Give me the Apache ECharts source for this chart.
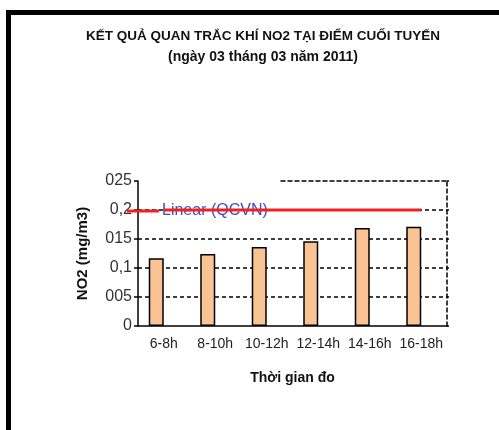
<!DOCTYPE html>
<html>
<head>
<meta charset="utf-8">
<script src="https://cdn.jsdelivr.net/npm/echarts@6/dist/echarts.min.js"></script>
<style>
  html, body { margin: 0; padding: 0; background: #fff; }
  #chart { width: 499px; height: 430px; }
</style>
</head>
<body>
<div id="chart"></div>
<script>
// Measurement periods and NO2 concentrations (mg/m3)
const periods = ['6-8h', '8-10h', '10-12h', '12-14h', '14-16h', '16-18h'];
const no2Values = [0.117, 0.124, 0.136, 0.146, 0.169, 0.171];
// QCVN limit for each period
const qcvnValues = [0.2, 0.2, 0.2, 0.2, 0.2, 0.2];
// Y tick labels as printed on the axis
const yTickLabels = ['0', '005', '0,1', '015', '0,2', '025'];

const chart = echarts.init(document.getElementById('chart'), null, { renderer: 'canvas' });

const dashed = { color: '#000', type: [4, 3], width: 1.5 };
const narrow = 'Liberation Sans Narrow, Liberation Sans, Arial';

chart.setOption({
  animation: false,
  backgroundColor: '#fff',
  textStyle: { fontFamily: 'Liberation Sans, Arial, sans-serif' },
  title: [
    {
      text: 'KẾT QUẢ QUAN TRẮC KHÍ NO2 TẠI ĐIỂM CUỐI TUYẾN',
      left: 258, top: 24, textAlign: 'center',
      textStyle: { fontSize: 13.5, fontWeight: 'bold', color: '#111', fontFamily: narrow }
    },
    {
      text: '(ngày 03 tháng 03 năm 2011)',
      left: 258, top: 45, textAlign: 'center',
      textStyle: { fontSize: 14, fontWeight: 'bold', color: '#111', fontFamily: narrow }
    }
  ],
  graphic: [
    // frame: top and left edge
    { type: 'rect', shape: { x: 6, y: 10, width: 493, height: 5 }, style: { fill: '#000' }, silent: true },
    { type: 'rect', shape: { x: 6, y: 10, width: 5, height: 420 }, style: { fill: '#000' }, silent: true }
  ],
  legend: {
    data: ['Linear (QCVN)'],
    left: 127, top: 203, padding: 0,
    itemWidth: 32, itemHeight: 3, itemGap: 0,
    icon: 'rect',
    textStyle: { color: '#3a4fc0', fontSize: 16, padding: [0, 0, 0, -2] },
    z: 4
  },
  grid: [
    { left: 138, right: 52, top: 181, bottom: 104 },
    { left: 281, right: 52, top: 181, bottom: 104 }
  ],
  xAxis: [
    {
      type: 'category', gridIndex: 0, data: periods,
      axisLine: { lineStyle: { color: '#000', width: 1.5 } },
      axisTick: { length: 5, lineStyle: { color: '#000', width: 1.5 } },
      axisLabel: { color: '#222', fontSize: 14, margin: 11, interval: 0 },
      name: 'Thời gian đo', nameLocation: 'middle', nameGap: 45,
      nameTextStyle: { color: '#111', fontSize: 14, fontWeight: 'bold' }
    },
    {
      // dashed top edge of the plot area
      type: 'value', gridIndex: 1, position: 'top', min: 0, max: 1,
      axisLine: { show: true, onZero: false, lineStyle: dashed },
      axisTick: { show: false }, axisLabel: { show: false }, splitLine: { show: false }
    }
  ],
  yAxis: [
    {
      type: 'value', gridIndex: 0, min: 0, max: 0.25, interval: 0.05,
      axisLine: { show: true, lineStyle: { color: '#000', width: 1.5 } },
      axisTick: { show: true, length: 4, lineStyle: { color: '#000', width: 1.5 } },
      axisLabel: {
        color: '#333', fontSize: 16, margin: 6,
        formatter: (v, i) => yTickLabels[i]
      },
      splitLine: { show: true, showMinLine: false, showMaxLine: false, lineStyle: dashed },
      name: 'NO2 (mg/m3)', nameLocation: 'middle', nameGap: 48, nameRotate: 90,
      nameTextStyle: { color: '#111', fontSize: 15, fontWeight: 'bold' }
    },
    {
      // dashed right edge of the plot area
      type: 'value', gridIndex: 0, position: 'right', min: 0, max: 0.25, interval: 0.05,
      axisLine: { show: true, onZero: false, lineStyle: dashed },
      axisTick: { show: true, length: 2, lineStyle: { color: '#000', width: 1.5 } },
      axisLabel: { show: false }, splitLine: { show: false }
    },
    { type: 'value', gridIndex: 1, show: false, min: 0, max: 1 }
  ],
  series: [
    {
      name: 'NO2', type: 'bar', xAxisIndex: 0, yAxisIndex: 0,
      data: no2Values, barWidth: 15, barGap: '0%',
      itemStyle: { color: '#f9c394', borderColor: '#000', borderWidth: 1.5 }
    },
    {
      name: 'QCVN', type: 'bar', xAxisIndex: 0, yAxisIndex: 0,
      data: qcvnValues, barWidth: 15, barGap: '0%',
      itemStyle: { opacity: 0 }, silent: true
    },
    {
      name: 'Linear (QCVN)', type: 'line', xAxisIndex: 0, yAxisIndex: 0,
      data: qcvnValues, symbol: 'none', z: 6,
      lineStyle: { color: '#ee2222', width: 3 },
      itemStyle: { color: '#ee2222' }
    }
  ]
});
</script>
</body>
</html>
